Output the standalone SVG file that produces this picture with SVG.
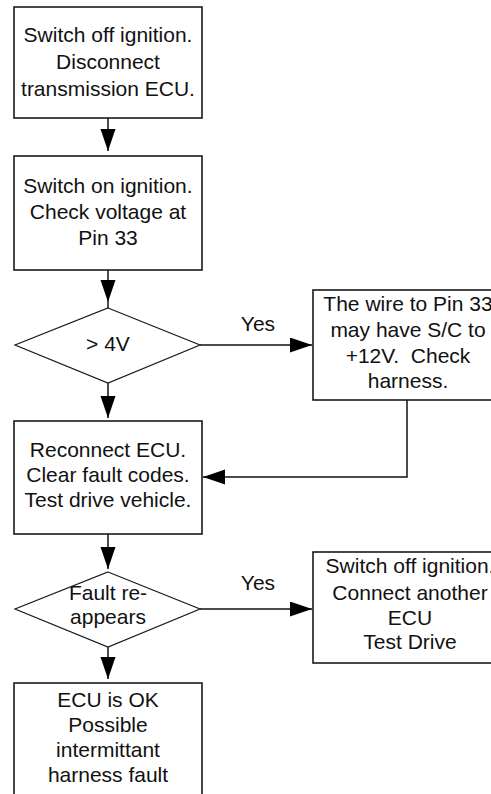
<svg xmlns="http://www.w3.org/2000/svg" width="491" height="794" viewBox="0 0 491 794">
<defs>
<style>
.box{fill:#fff;stroke:#1a1a1a;stroke-width:1.6}
.dia{fill:#fff;stroke:#1a1a1a;stroke-width:1.2}
.t{font-family:"Liberation Sans",Arial,sans-serif;font-size:21px;fill:#111;text-anchor:middle;white-space:pre}
.c{fill:none;stroke:#111;stroke-width:1.5}
</style>
<marker id="ah" markerUnits="userSpaceOnUse" markerWidth="24" markerHeight="16" refX="22" refY="7.5" orient="auto">
<path d="M0,0 L22,7.5 L0,15 z" fill="#000"/>
</marker>
</defs>
<rect width="491" height="794" fill="#fff"/>
<g id="connectors">
<path class="c" d="M108,118 V151" marker-end="url(#ah)"/>
<path class="c" d="M108,270 V302" marker-end="url(#ah)"/>
<path class="c" d="M108,302 V308"/>
<path class="c" d="M200,345 H312" marker-end="url(#ah)"/>
<path class="c" d="M108,383 V418" marker-end="url(#ah)"/>
<path class="c" d="M407,400 V477 H203" marker-end="url(#ah)"/>
<path class="c" d="M108,534 V569" marker-end="url(#ah)"/>
<path class="c" d="M200,609 H312" marker-end="url(#ah)"/>
<path class="c" d="M108,647 V679" marker-end="url(#ah)"/>
<text class="t" x="258" y="331">Yes</text>
<text class="t" x="258" y="590">Yes</text>
</g>
<g id="n1">
<rect class="box" x="14" y="7" width="188" height="111"/>
<text class="t" x="108" y="42">Switch off ignition.</text>
<text class="t" x="108" y="68.5">Disconnect</text>
<text class="t" x="108" y="96">transmission ECU.</text>
</g>
<g id="n2">
<rect class="box" x="14" y="156" width="188" height="114"/>
<text class="t" x="108" y="193">Switch on ignition.</text>
<text class="t" x="108" y="219">Check voltage at</text>
<text class="t" x="108" y="245">Pin 33</text>
</g>
<g id="d1">
<polygon class="dia" points="108,308 200,345 108,383 15,345"/>
<text class="t" x="108" y="351">&gt; 4V</text>
</g>
<g id="n3">
<rect class="box" x="313" y="290" width="192" height="110"/>
<text class="t" x="408" y="311">The wire to Pin 33</text>
<text class="t" x="408" y="337">may have S/C to</text>
<text class="t" x="408" y="363" xml:space="preserve">+12V.  Check</text>
<text class="t" x="408" y="388">harness.</text>
</g>
<g id="n4">
<rect class="box" x="14" y="421" width="188" height="113"/>
<text class="t" x="108" y="457">Reconnect ECU.</text>
<text class="t" x="108" y="482">Clear fault codes.</text>
<text class="t" x="108" y="507">Test drive vehicle.</text>
</g>
<g id="d2">
<polygon class="dia" points="108,572 200,609 108,647 15,609"/>
<text class="t" x="108" y="600">Fault re-</text>
<text class="t" x="108" y="624">appears</text>
</g>
<g id="n5">
<rect class="box" x="313" y="552" width="192" height="111"/>
<text class="t" x="410" y="573">Switch off ignition.</text>
<text class="t" x="410" y="600">Connect another</text>
<text class="t" x="410" y="625">ECU</text>
<text class="t" x="410" y="649">Test Drive</text>
</g>
<g id="n6">
<rect class="box" x="14" y="683" width="188" height="130"/>
<text class="t" x="108" y="707">ECU is OK</text>
<text class="t" x="108" y="732">Possible</text>
<text class="t" x="108" y="757">intermittant</text>
<text class="t" x="108" y="782">harness fault</text>
</g>
</svg>
